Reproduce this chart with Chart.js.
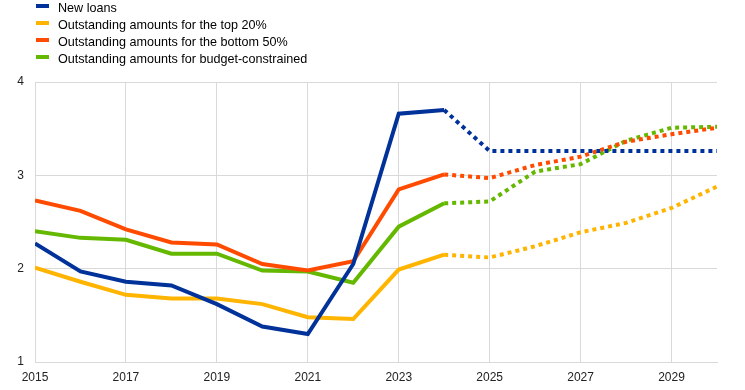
<!DOCTYPE html>
<html>
<head>
<meta charset="utf-8">
<script src="https://cdn.jsdelivr.net/npm/chart.js@4.4.1/dist/chart.umd.min.js"></script>
<style>
    html, body { margin: 0; padding: 0; background: #fff; }
    #wrap { position: relative; width: 745px; height: 390px; }
    #legend { position: absolute; left: 36px; top: 0; font: 12.6px "Liberation Sans", Arial, sans-serif; color: #000; }
    .item { height: 17px; line-height: 17px; position: relative; padding-left: 22px; white-space: nowrap; }
    .item span.mark { position: absolute; left: 0; top: 4px; width: 13px; height: 4px; }
</style>
</head>
<body>
<div id="wrap">
    <div id="legend"></div>
    <canvas id="chart" width="745" height="390"></canvas>
</div>
<script>
const years = [2015, 2016, 2017, 2018, 2019, 2020, 2021, 2022, 2023, 2024, 2025, 2026, 2027, 2028, 2029, 2030];
const xTicks = [2015, 2017, 2019, 2021, 2023, 2025, 2027, 2029];
const yTicks = [1, 2, 3, 4];
const seriesNames = ['New loans', 'Outstanding amounts for the top 20%', 'Outstanding amounts for the bottom 50%', 'Outstanding amounts for budget-constrained'];
const seriesColors = ['#003299', '#ffb400', '#ff4b00', '#65b800'];

const newLoans = [2.27, 1.97, 1.86, 1.82, 1.62, 1.38, 1.30, 2.05, 3.66, 3.70, 3.26, 3.26, 3.26, 3.26, 3.26, 3.26];
const top20 = [2.01, 1.86, 1.72, 1.68, 1.68, 1.62, 1.48, 1.46, 1.99, 2.15, 2.12, 2.24, 2.39, 2.49, 2.65, 2.88];
const bottom50 = [2.73, 2.62, 2.42, 2.28, 2.26, 2.05, 1.98, 2.08, 2.85, 3.01, 2.97, 3.11, 3.20, 3.36, 3.44, 3.51];
const budgetConstrained = [2.40, 2.33, 2.31, 2.16, 2.16, 1.98, 1.97, 1.85, 2.45, 2.70, 2.72, 3.04, 3.12, 3.37, 3.51, 3.52];

// projections start after 2024
const projectionStart = 2024;

const allSeries = [newLoans, top20, bottom50, budgetConstrained];

// legend
const legendEl = document.getElementById('legend');
seriesNames.forEach((name, i) => {
    const div = document.createElement('div');
    div.className = 'item';
    div.innerHTML = "<span class='mark' style='background:" + seriesColors[i] + "'></span>" + name;
    legendEl.appendChild(div);
});

const datasets = allSeries.map((values, i) => ({
    label: seriesNames[i],
    data: values.map((v, j) => ({ x: years[j], y: v })),
    borderColor: seriesColors[i],
    backgroundColor: seriesColors[i],
    borderWidth: 4,
    pointRadius: 0,
    tension: 0,
    borderCapStyle: 'butt',
    segment: {
        borderDash: ctx => ctx.p0.parsed.x >= projectionStart ? [4, 4] : undefined
    }
}));

const tickFont = { family: '"Liberation Sans", Arial, sans-serif', size: 12 };

new Chart(document.getElementById('chart').getContext('2d'), {
    type: 'line',
    data: { datasets: datasets },
    options: {
        responsive: false,
        animation: false,
        layout: { padding: { top: 82, right: 28, left: 0, bottom: 0 } },
        plugins: {
            legend: { display: false },
            tooltip: { enabled: false }
        },
        scales: {
            x: {
                type: 'linear',
                min: 2015,
                max: 2030,
                afterBuildTicks: axis => { axis.ticks = xTicks.map(v => ({ value: v })); },
                afterFit: scale => { scale.height = 28; },
                ticks: {
                    color: '#222',
                    font: tickFont,
                    padding: 8,
                    maxRotation: 0,
                    callback: v => String(v)
                },
                grid: { color: '#d9d9d9', lineWidth: 1, drawTicks: false },
                border: { display: true, color: '#d9d9d9' }
            },
            y: {
                min: 1,
                max: 4,
                afterBuildTicks: axis => { axis.ticks = yTicks.map(v => ({ value: v })); },
                afterFit: scale => { scale.width = 35; },
                ticks: {
                    color: '#222',
                    font: tickFont,
                    padding: 11
                },
                grid: { color: '#d9d9d9', lineWidth: 1, drawTicks: false },
                border: { display: false }
            }
        }
    }
});
</script>
</body>
</html>
